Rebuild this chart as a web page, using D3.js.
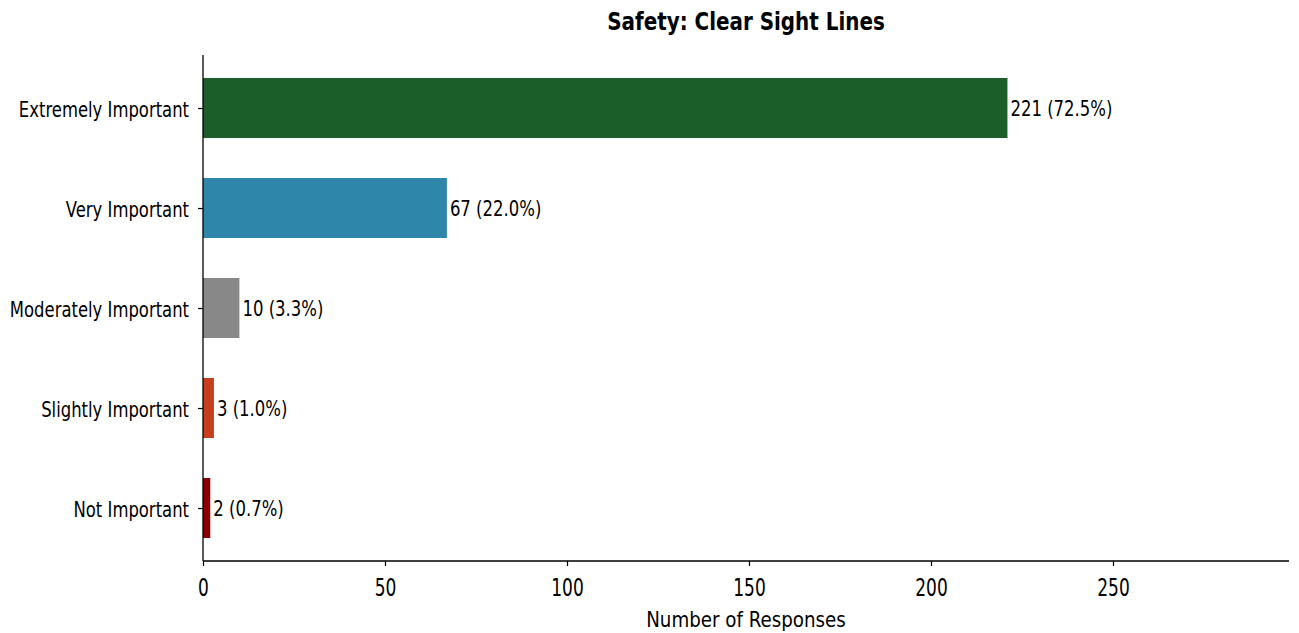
<!DOCTYPE html>
<html><head><meta charset="utf-8">
<script src="https://cdn.jsdelivr.net/npm/d3@7"></script>
<style>
body{margin:0;background:#fff;}
text{font-family:"DejaVu Sans",sans-serif;}
</style></head>
<body>
<svg id="c" width="1299" height="633"></svg>
<script>
const categories = ["Extremely Important","Very Important","Moderately Important","Slightly Important","Not Important"];
const counts = [221, 67, 10, 3, 2];
const percents = [72.5, 22.0, 3.3, 1.0, 0.7];
const colors = ["#1b5e2a","#2e86ab","#888888","#c73e1d","#8b0000"];
const xTicks = [0, 50, 100, 150, 200, 250];
const title = "Safety: Clear Sight Lines";
const xLabel = "Number of Responses";

const svg = d3.select("#c");
const L = 203, R = 1289, T = 55, B = 561;
const x = d3.scaleLinear().domain([0, 221*1.35]).range([L, R]);
const y = d3.scaleLinear().domain([-0.53, 4.53]).range([T, B]);
const bh = y(0.3) - y(-0.3);

// horizontal compression of text around its anchor point
function squeeze(sel, k){
  sel.each(function(){
    const ax = +(this.getAttribute("x") || 0);
    const ay = +(this.getAttribute("y") || 0);
    this.setAttribute("transform", `translate(${ax},${ay}) scale(${k},1) translate(${-ax},${-ay})`);
  });
}

svg.selectAll("rect.bar").data(counts).enter().append("rect")
  .attr("x", x(0)).attr("y", (d,i)=>y(i-0.3))
  .attr("width", d=>x(d)-x(0)).attr("height", bh)
  .attr("fill", (d,i)=>colors[i]);

const vals = svg.selectAll("text.val").data(counts).enter().append("text")
  .attr("x", d=>x(d)+3).attr("y", (d,i)=>y(i)+8)
  .attr("font-size",22).attr("fill","#000")
  .text((d,i)=>`${d} (${percents[i].toFixed(1)}%)`);
squeeze(vals, 0.75);

const xa = svg.append("g").attr("transform",`translate(0,${B})`)
  .call(d3.axisBottom(x).tickValues(xTicks).tickSize(5).tickPadding(4).tickSizeOuter(0));
xa.select(".domain").remove();
xa.selectAll("line").attr("stroke","#000").attr("stroke-width",1.2);
xa.selectAll("text").attr("font-size",24).attr("fill","#000").attr("font-family",null)
  .attr("dy",null).attr("y",35).attr("x",0);
squeeze(xa.selectAll("text"), 0.71);

const ya = svg.append("g").attr("transform",`translate(${L},0)`)
  .call(d3.axisLeft(y).tickValues(d3.range(categories.length)).tickFormat(i=>categories[i]).tickSize(5).tickPadding(9));
ya.select(".domain").remove();
ya.selectAll("line").attr("stroke","#000").attr("stroke-width",1.2);
ya.selectAll("text").attr("font-size",21.5).attr("fill","#000").attr("font-family",null)
  .attr("dy",null).attr("y",8).attr("x",-14);
squeeze(ya.selectAll("text"), 0.765);

svg.append("line").attr("x1",L).attr("x2",L).attr("y1",T).attr("y2",B).attr("stroke","#000").attr("stroke-width",1.3);
svg.append("line").attr("x1",L).attr("x2",R).attr("y1",B).attr("y2",B).attr("stroke","#000").attr("stroke-width",1.3);

const xl = svg.append("text").attr("x",(L+R)/2).attr("y",627).attr("text-anchor","middle")
  .attr("font-size",22).text(xLabel);
squeeze(xl, 0.83);
const tt = svg.append("text").attr("x",(L+R)/2).attr("y",30).attr("text-anchor","middle")
  .attr("font-size",24).attr("font-weight","bold").text(title);
squeeze(tt, 0.83);
</script>
</body></html>
